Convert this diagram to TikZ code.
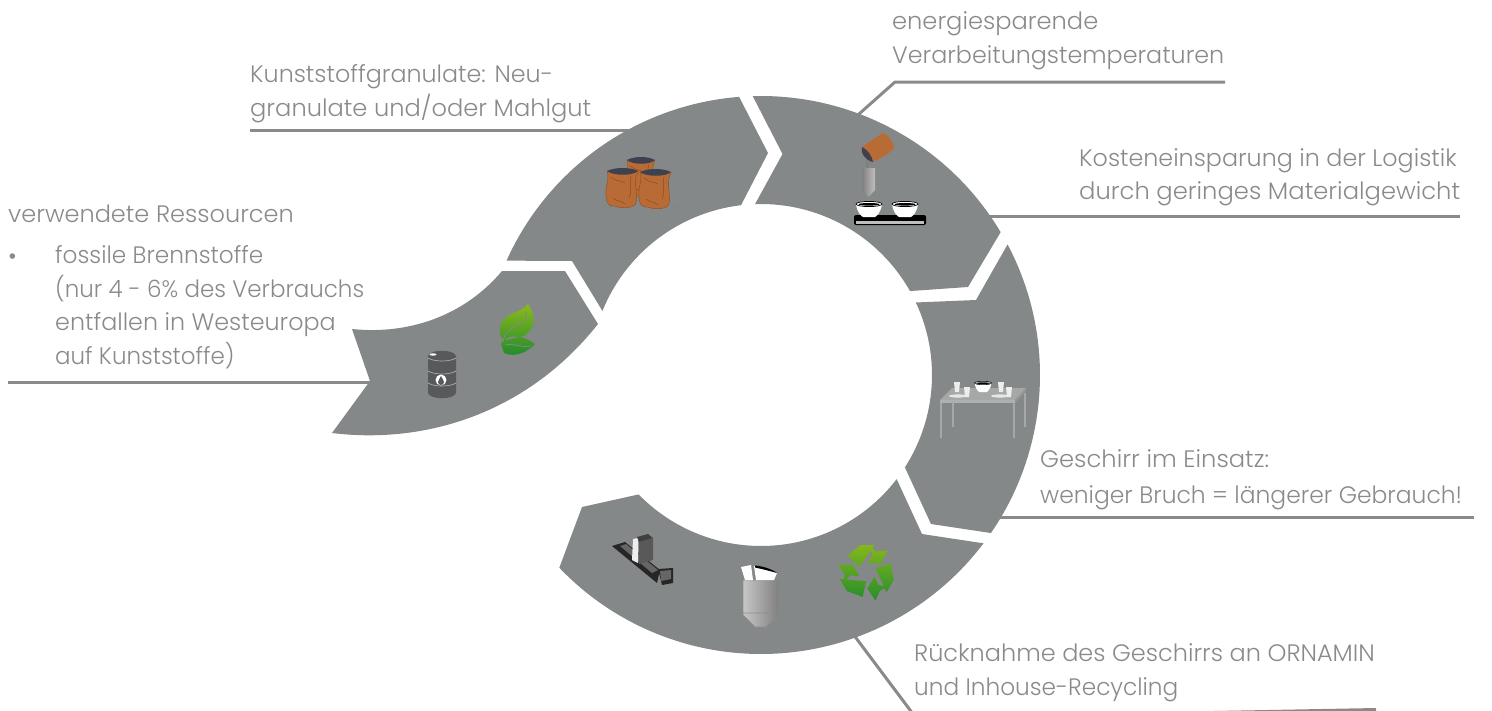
\documentclass[tikz,border=0pt]{standalone}
\usepackage{fontspec}
\setmainfont{Poppins Light}
\usetikzlibrary{calc}
\definecolor{ringc}{HTML}{858888}
\definecolor{textc}{HTML}{8A8A8A}
\definecolor{linec}{HTML}{8A8A8A}
\definecolor{bagc}{HTML}{B96B36}
\definecolor{bagd}{HTML}{8A4E25}
\definecolor{grainc}{HTML}{3D4150}
\definecolor{barrelc}{HTML}{58595B}
\definecolor{tablec}{HTML}{A6A8A8}
\definecolor{leafa}{HTML}{8DBB1A}
\definecolor{leafb}{HTML}{1F8A2E}
\tikzset{
  seg/.style={fill=ringc,draw=none},
  lbl/.style={anchor=base west,inner sep=0pt,align=left,text=textc,font=\fontsize{23.8}{33.5}\selectfont},
  leader/.style={draw=linec,line width=3pt,line join=round}
}
\newcommand\sx[2]{\scalebox{#1}[1]{#2}}
\newcommand\sackicon[3]{\begin{scope}[shift={(#1,#2)},xscale=#3]
  \fill[bagc,draw=bagd,line width=.4pt] (0,3) .. controls (3,10) and (-2,18) .. (-1,28) .. controls (-1,35) and (2,39) .. (8,38) .. controls (14,41) and (24,40) .. (28,37) .. controls (32,30) and (27,18) .. (29,9) -- (31,3) -- cycle;
  \draw[bagd,line width=.5pt] (4,9) .. controls (9,14) and (14,12) .. (18,15) (24,8) .. controls (22,16) and (26,22) .. (22,30) (6,30) .. controls (10,34) and (14,32) .. (18,36);
  \fill[grainc] (0,3) .. controls (8,-1) and (23,-1) .. (31,3) .. controls (26,8) and (6,8) .. (0,3) -- cycle;
\end{scope}}
\newcommand\bowlicon[2]{\begin{scope}[shift={(#1,#2)}]
  \fill[white] (-13,0) .. controls (-12,8) and (-8,12) .. (-6,13) -- (6,13) .. controls (8,12) and (12,8) .. (13,0) -- cycle;
  \fill[white,draw=black,line width=.7pt] (0,0) ellipse [x radius=13,y radius=2.6];
  \fill[black] (0,.3) ellipse [x radius=10.5,y radius=1.3];
\end{scope}}
\newcommand\cupicon[2]{\fill[white!85!ringc] (#1-3,#2-5) -- (#1+3,#2-5) -- (#1+2,#2+5) -- (#1-2,#2+5) -- cycle;}
\newcommand\rcy[1]{([rotate=#1]-18,-15) -- ([rotate=#1]-6,-25) -- ([rotate=#1]7,-25) -- ([rotate=#1]-7,-5) -- cycle ([rotate=#1]3,-23) -- ([rotate=#1]9,-19) -- ([rotate=#1]19,-20) -- ([rotate=#1]13,-8) -- ([rotate=#1]0,-8) -- ([rotate=#1]5,-15) -- cycle }
\begin{document}
\begin{tikzpicture}[x=1pt,y=-1pt]
\useasboundingbox (0,0) rectangle (1492,710);
\coordinate (C) at (761,375);
% leader ends
\coordinate (ka) at (250,130);  \coordinate (kb) at (640,130);
\coordinate (va) at (8,382);    \coordinate (vb) at (378,382);
\coordinate (ea) at (1225,82);  \coordinate (eb) at (895,82);  \coordinate (ec) at (850,122);
\coordinate (la) at (1460,216); \coordinate (lb) at (980,216);
\coordinate (ga) at (1474,517); \coordinate (gb) at (990,517);
\coordinate (ra) at (850,630);  \coordinate (rb) at (916,718); \coordinate (rc) at (1376,709.5);
\draw[leader] (ka) -- (kb);
\draw[leader] (va) -- (vb);
\draw[leader] (ea) -- (eb) -- (ec);
\draw[leader] (la) -- (lb);
\draw[leader] (ga) -- (gb);
\draw[leader] (ra) -- (rb) -- (rc);
% ring segments
\fill[seg] (332,433) .. controls (430,445) and (530,410) .. (598,324) -- (565,271) -- (502,271) .. controls (465,315) and (410,335) .. (352,329) -- (370,381) -- cycle;
\fill[seg] ($(C)+(204.2:279)$) arc[start angle=204.2,end angle=265.5,radius=279] -- (768,153) -- ($(C)+(263.3:171)$) arc[start angle=263.3,end angle=202,radius=171] -- (572,261) -- cycle;
\fill[seg] ($(C)+(268.3:279)$) arc[start angle=268.3,end angle=329.2,radius=279] -- (968,287) -- ($(C)+(330.6:171)$) arc[start angle=330.6,end angle=268,radius=171] -- (782.5,154) -- cycle;
\fill[seg] ($(C)+(332.1:279)$) arc[start angle=332.1,end angle=394.5,radius=279] -- (931,524) -- ($(C)+(392.7:171)$) arc[start angle=392.7,end angle=334.9,radius=171] -- (976,300) -- cycle;
\fill[seg] ($(C)+(37.1:279)$) arc[start angle=37.1,end angle=136.3,radius=279] -- (582,507) -- ($(C)+(135.7:171)$) arc[start angle=135.7,end angle=37.5,radius=171] -- (922,534) -- cycle;
% labels
\node[lbl] (t1) at (892,63) {\sx{1.014}{energiesparende}\\Verarbeitungstemperaturen};
\node[lbl] (t2) at (250,116) {Kunststoffgranulate: Neu-\\\sx{1.014}{granulate und/oder Mahlgut}};
\node[lbl] (t3) at (8,222) {\sx{1.01}{verwendete Ressourcen}};
\node[lbl] (t4b) at (8,264) {•};
\node[lbl] (t4) at (55,364) {\sx{.975}{fossile Brennstoffe}\\\sx{.965}{(nur 4 - 6\% des Verbrauchs}\\entfallen in Westeuropa\\\sx{.965}{auf Kunststoffe)}};
\node[lbl] (t5) at (1079,199.5) {Kosteneinsparung in der Logistik\\\sx{1.018}{durch geringes Materialgewicht}};
\node[lbl] (t6) at (1040,503) {\sx{1.018}{Geschirr im Einsatz:}\\[2pt]\sx{.984}{weniger Bruch = längerer Gebrauch!}};
\node[lbl] (t7) at (914,695) {\sx{1.008}{Rücknahme des Geschirrs an ORNAMIN}\\\sx{.975}{und Inhouse-Recycling}};
% barrel
\fill[barrelc] (428,356) -- (428,393) .. controls (430,400) and (454,400) .. (456,393) -- (456,356) .. controls (454,349) and (430,349) .. (428,356) -- cycle;
\draw[ringc!70!white,line width=.7pt] (428,358) .. controls (434,362) and (450,362) .. (456,358) (428,371) .. controls (434,375) and (450,375) .. (456,371) (428,383) .. controls (434,387) and (450,387) .. (456,383);
\fill[white] (433,354.5) ellipse [x radius=3.5,y radius=1.2];
\fill[white] (441,380) circle (5.5);
\fill[barrelc] (441,376) .. controls (442,379) and (444,380) .. (444,382) .. controls (444,386) and (438,386) .. (438,382) .. controls (438,380) and (440,379) .. (441,376) -- cycle;
% leaves
\begin{scope}
  \clip (528,304) .. controls (522,314) and (498,312) .. (500,332) .. controls (500,337) and (503,341) .. (506,340) -- (524,336) .. controls (536,328) and (536,316) .. (528,304) -- cycle
        (501,344) .. controls (505,335) and (520,333) .. (535,344) .. controls (528,352) and (515,358) .. (504,353) -- cycle;
  \shade[top color=leafa,bottom color=leafb] (495,303) rectangle (540,357);
\end{scope}
\draw[ringc,line width=.8pt] (526,312) .. controls (530,326) and (506,322) .. (503,342) (505,345) .. controls (515,343) and (522,348) .. (531,346);
% sacks
\sackicon{627}{157}{.9}
\sackicon{607}{168}{1}
\sackicon{640}{169}{1}
\foreach \p in {(597,204),(604,206),(610,207),(672,206),(678,207),(584,203)} \fill[black!55] \p circle (.5);
% pouring group
\begin{scope}
  \fill[bagc] (862,147) .. controls (868,142) and (878,137) .. (882,133) .. controls (888,134) and (894,142) .. (894,148) .. controls (888,155) and (880,158) .. (873,162) .. controls (868,158) and (863,152) .. (862,147) -- cycle;
  \fill[grainc] (862,147) .. controls (860,153) and (866,161) .. (873,162) .. controls (872,156) and (868,150) .. (862,147) -- cycle;
  \fill[black!50] (866,160) rectangle (869,168);
  \shade[left color=black!50,right color=black!25] (862,168) -- (875,168) -- (875,190) -- (868.5,197) -- (862,190) -- cycle;
\end{scope}
\fill[black] (854,215) [rounded corners=2pt] rectangle (926,225);
\fill[black!25] (856,221) rectangle (924,224);
\bowlicon{869}{204}
\bowlicon{905}{204}
% table
\fill[tablec] (940,400) -- (952,388) -- (1026,388) -- (1015,400) -- cycle;
\fill[tablec!90!white] (940,400) rectangle (1015,403);
\fill[tablec!90!black] (1015,400) -- (1026,388) -- (1026,391) -- (1015,403) -- cycle;
\draw[tablec,line width=2pt] (941,403) -- (941,438) (953,402) -- (953,427) (1014,403) -- (1014,438) (1025,393) -- (1025,427);
\fill[white!80!ringc] (958,396) ellipse [x radius=9,y radius=1.6];
\fill[white!80!ringc] (1000,396) ellipse [x radius=9,y radius=1.6];
\cupicon{957}{387}
\cupicon{967}{392}
\cupicon{1001}{387}
\cupicon{1009}{392}
\begin{scope}[shift={(983,383)},scale=.65]
  \fill[white] (-13,0) .. controls (-12,8) and (-8,12) .. (-6,14) -- (6,14) .. controls (8,12) and (12,8) .. (13,0) -- cycle;
  \fill[white,draw=black,line width=.6pt] (0,0) ellipse [x radius=13,y radius=2.6];
  \fill[black] (0,.3) ellipse [x radius=10.5,y radius=1.3];
\end{scope}
% machine
\fill[black!85] (612,546) -- (625,542) -- (660,570) -- (657,583) -- cycle;
\fill[black!60] (620,546) -- (626,544) -- (658,570) -- (652,573) -- cycle;
\fill[black!85] (658,569) -- (673,568) -- (673,583) -- (662,585) -- cycle;
\fill[black!60] (660,571) -- (671,570) -- (671,579) -- (661,581) -- cycle;
\fill[white!85!ringc] (633,539) -- (638,538) -- (638,563) -- (632,560) -- cycle;
\fill[black!65] (639,542) -- (653,538) -- (653,560) -- (639,564) -- cycle;
\fill[black!75] (637,537) -- (648,534) -- (653,538) -- (639,542) -- cycle;
% filling silo
\shade[left color=black!22,right color=black!50] (743,580) -- (779,580) -- (779,615) -- (766,627) -- (755,627) -- (743,615) -- cycle;
\draw[black!45,line width=.8pt] (743,580) -- (779,580) -- (779,615) -- (766,627) -- (755,627) -- (743,615) -- cycle (743,613) -- (779,613);
\fill[white] (741,567) -- (751,565) -- (753,580) -- (745,580) -- cycle;
\fill[white] (754,566) -- (777,573) -- (774,580) -- (756,580) -- cycle;
\fill[black] (755,565.5) .. controls (762,566) and (772,569) .. (777,573) .. controls (770,571) and (762,569) .. (755,567.5) -- cycle;
% recycle symbol
\begin{scope}[shift={(867,572)},scale=1.08]
  \clip \rcy{0} \rcy{120} \rcy{240};
  \shade[top color=leafa,bottom color=leafb] (-30,-30) rectangle (30,30);
\end{scope}
\end{tikzpicture}
\end{document}
